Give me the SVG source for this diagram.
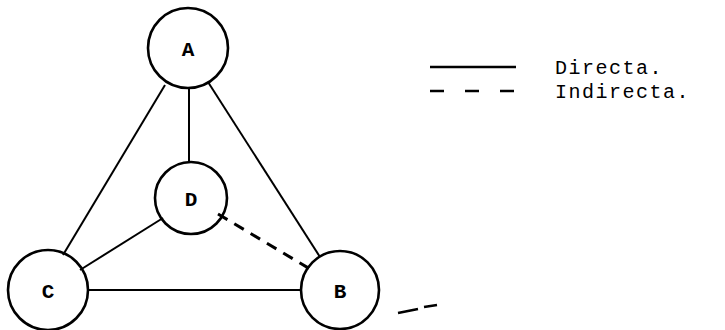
<svg xmlns="http://www.w3.org/2000/svg" width="725" height="330" viewBox="0 0 725 330">
<style>
.node circle{fill:none;stroke:#000;stroke-width:2.6}
.node text{font-family:"Liberation Mono","DejaVu Sans Mono",monospace;font-size:21px;font-weight:bold;text-anchor:middle;fill:#000}
.edge{stroke:#000;stroke-width:2;fill:none}
.dash{stroke-dasharray:11,8;stroke-width:3}
.leg{font-family:"Liberation Mono","DejaVu Sans Mono",monospace;font-size:20px;letter-spacing:1.5px;fill:#000}
</style>
<rect width="725" height="330" fill="#fff"/>
<g id="connectors">
<line class="edge" x1="165" y1="85" x2="63" y2="255"/>
<line class="edge" x1="189" y1="88" x2="189" y2="162"/>
<line class="edge" x1="208" y1="82" x2="320" y2="257"/>
<line class="edge" x1="80" y1="270" x2="163" y2="218"/>
<line class="edge dash" x1="218" y1="214" x2="310" y2="269"/>
<line class="edge" x1="88" y1="290" x2="302" y2="290"/>
</g>
<g id="A" class="node"><circle cx="188" cy="48" r="40"/><text x="188" y="56">A</text></g>
<g id="D" class="node"><circle cx="191" cy="198" r="36"/><text x="191" y="206">D</text></g>
<g id="C" class="node"><circle cx="48" cy="290" r="40"/><text x="48" y="298">C</text></g>
<g id="B" class="node"><circle cx="340" cy="290" r="39"/><text x="340" y="298">B</text></g>
<g id="legend">
<line class="edge" x1="430" y1="67" x2="516" y2="67" style="stroke-width:2.5"/>
<line class="edge" x1="430" y1="91" x2="516" y2="91" style="stroke-dasharray:14,21;stroke-width:2.5"/>
<text class="leg" x="555" y="74">Directa.</text>
<text class="leg" x="555" y="98">Indirecta.</text>
</g>
<path d="M398 313 L418 309 M424 307 L437 305" stroke="#000" stroke-width="2.5" fill="none"/>
</svg>
